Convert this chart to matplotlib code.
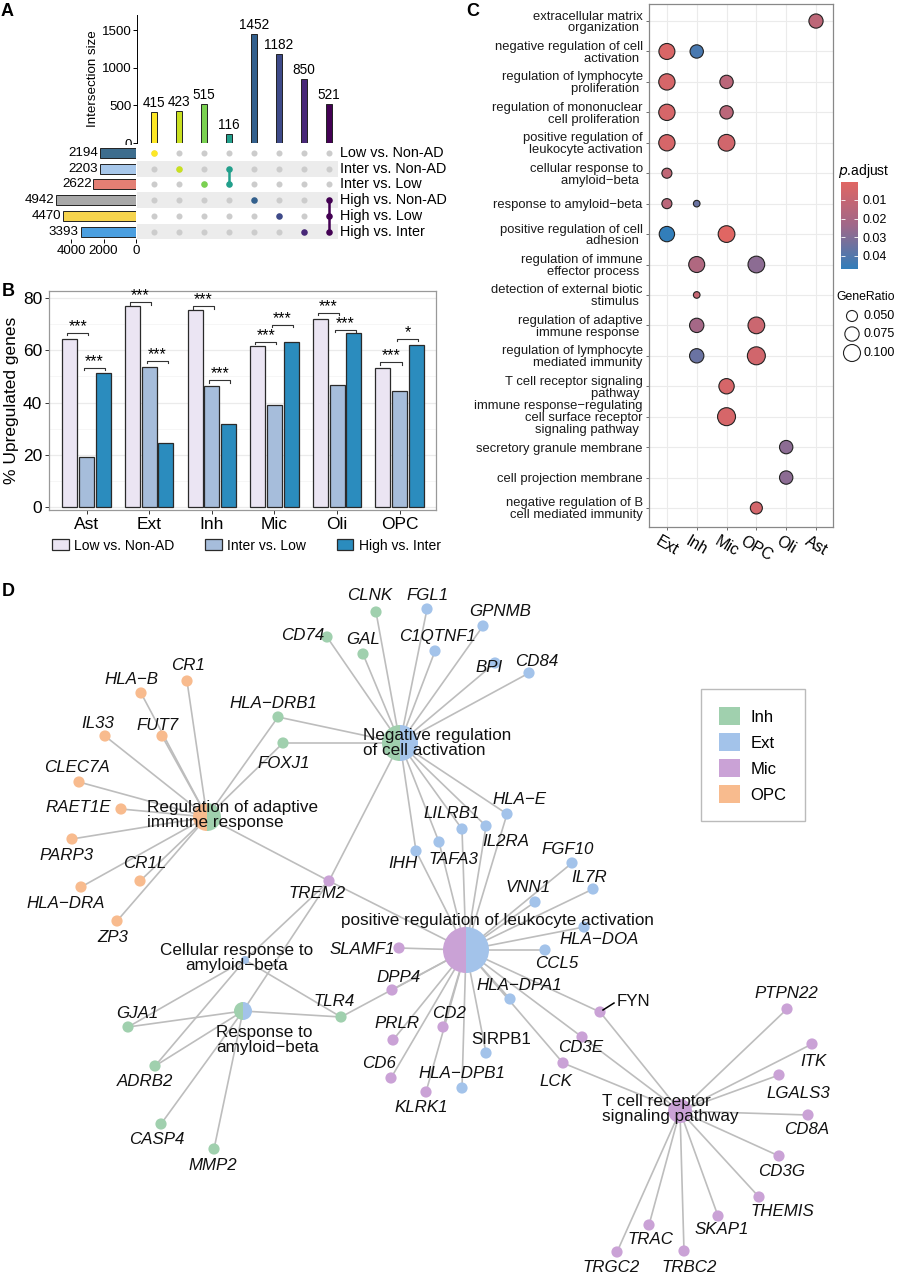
import numpy as np
import matplotlib
matplotlib.use('Agg')
import matplotlib.pyplot as plt
from matplotlib.patches import Wedge, Circle, Patch
from matplotlib.colors import LinearSegmentedColormap, Normalize

plt.rcParams['font.family'] = ['Liberation Sans', 'DejaVu Sans']

W, H = 899, 1280

# ---------------- A: upset data ----------------
set_names = ['Low vs. Non-AD', 'Inter vs. Non-AD', 'Inter vs. Low',
             'High vs. Non-AD', 'High vs. Low', 'High vs. Inter']
set_sizes = [2194, 2203, 2622, 4942, 4470, 3393]
set_colors = ['#3d6d8e', '#a7c7ea', '#e37f74', '#a8a8a8', '#f6d44e', '#4b9fe0']
inter_sizes = [415, 423, 515, 116, 1452, 1182, 850, 521]
inter_members = [[0], [1], [2], [1, 2], [3], [4], [5], [3, 4, 5]]
inter_colors = ['#fde725', '#c9e020', '#7ad151', '#22a08c',
                '#33608d', '#3e4a89', '#482878', '#440154']

# ---------------- B: % upregulated ----------------
cell_types = ['Ast', 'Ext', 'Inh', 'Mic', 'Oli', 'OPC']
comp_names = ['Low vs. Non-AD', 'Inter vs. Low', 'High vs. Inter']
comp_colors = ['#ebe5f3', '#a6bddb', '#2b8cbe']
pct_low_nonad = [64.4, 77.1, 75.4, 61.6, 72.0, 53.2]
pct_inter_low = [19.1, 53.8, 46.2, 39.2, 46.6, 44.5]
pct_high_inter = [51.2, 24.4, 31.9, 63.2, 66.6, 62.1]
sig1_y = [66.6, 78.3, 76.8, 63.3, 74.3, 55.4]
sig1_lab = ['***', '***', '***', '***', '***', '***']
sig2_y = [53.2, 55.9, 48.5, 69.7, 67.9, 64.4]
sig2_lab = ['***', '***', '***', '***', '***', '*']

# ---------------- C: GO dotplot ----------------
go_terms = ['extracellular matrix\norganization ',
            'negative regulation of cell\nactivation ',
            'regulation of lymphocyte\nproliferation ',
            'regulation of mononuclear\ncell proliferation ',
            'positive regulation of\nleukocyte activation',
            'cellular response to\namyloid\u2212beta ',
            'response to amyloid\u2212beta',
            'positive regulation of cell\nadhesion ',
            'regulation of immune\neffector process ',
            'detection of external biotic\nstimulus ',
            'regulation of adaptive\nimmune response ',
            'regulation of lymphocyte\nmediated immunity',
            'T cell receptor signaling\npathway ',
            'immune response\u2212regulating\ncell surface receptor\nsignaling pathway ',
            'secretory granule membrane',
            'cell projection membrane',
            'negative regulation of B\ncell mediated immunity']
go_clusters = ['Ext', 'Inh', 'Mic', 'OPC', 'Oli', 'Ast']
dot_term = [1, 2, 2, 3, 3, 4, 4, 5, 5, 6, 7, 7, 8, 8, 9, 9, 10, 11, 11, 12, 12, 13, 14, 15, 16, 17]
dot_cluster = ['Ast', 'Ext', 'Inh', 'Ext', 'Mic', 'Ext', 'Mic', 'Ext', 'Mic', 'Ext', 'Ext', 'Inh',
               'Ext', 'Mic', 'Inh', 'OPC', 'Inh', 'Inh', 'OPC', 'Inh', 'OPC', 'Mic', 'Mic',
               'Oli', 'Oli', 'OPC']
dot_padj = [0.013, 0.003, 0.042, 0.004, 0.014, 0.004, 0.014, 0.004, 0.006, 0.012, 0.014, 0.035,
            0.047, 0.0004, 0.018, 0.028, 0.010, 0.022, 0.008, 0.035, 0.006, 0.004, 0.004,
            0.028, 0.028, 0.005]
dot_ratio = [0.074, 0.090, 0.067, 0.093, 0.067, 0.093, 0.067, 0.093, 0.097, 0.044, 0.044, 0.027,
             0.084, 0.097, 0.090, 0.097, 0.027, 0.075, 0.097, 0.075, 0.110, 0.084, 0.110,
             0.067, 0.067, 0.057]
ratio_breaks = [0.050, 0.075, 0.100]

# ---------------- D: cnet network ----------------
genes = ['CLNK', 'FGL1', 'CD74', 'GAL', 'C1QTNF1', 'GPNMB', 'BPI', 'CD84', 'HLA\u2212DRB1', 'FOXJ1',
         'HLA\u2212B', 'CR1', 'IL33', 'FUT7', 'CLEC7A', 'RAET1E', 'PARP3', 'CR1L', 'HLA\u2212DRA', 'ZP3',
         'TREM2', 'HLA\u2212E', 'LILRB1', 'IL2RA', 'TAFA3', 'IHH', 'FGF10', 'IL7R', 'VNN1', 'HLA\u2212DOA',
         'CCL5', 'SLAMF1', 'GJA1', 'TLR4', 'ADRB2', 'CASP4', 'MMP2', 'DPP4', 'PRLR', 'CD6',
         'KLRK1', 'CD2', 'HLA\u2212DPA1', 'FYN', 'SIRPB1', 'CD3E', 'LCK', 'HLA\u2212DPB1', 'PTPN22', 'ITK',
         'LGALS3', 'CD8A', 'CD3G', 'THEMIS', 'SKAP1', 'TRAC', 'TRBC2', 'TRGC2']
gene_x = [376, 427, 327, 363, 435, 483, 495, 529, 278, 283,
          141, 187, 105, 162, 79, 121, 72, 140, 81, 117,
          329, 507, 462, 486, 439, 416, 572, 593, 535, 584,
          545, 399, 128, 341, 155, 161, 214, 392, 393, 391,
          426, 443, 510, 600, 486, 582, 563, 462, 787, 812,
          779, 808, 779, 759, 718, 649, 684, 617]
gene_y = [612, 609, 637, 654, 651, 626, 663, 673, 717, 743,
          693, 681, 736, 736, 782, 809, 839, 881, 887, 921,
          881, 814, 829, 826, 842, 851, 863, 889, 902, 927,
          950, 948, 1027, 1017, 1066, 1124, 1149, 990, 1040, 1078,
          1092, 1027, 999, 1012, 1053, 1037, 1063, 1088, 1009, 1044,
          1075, 1115, 1156, 1197, 1216, 1225, 1251, 1252]
gene_cluster = ['Inh', 'Ext', 'Inh', 'Inh', 'Ext', 'Ext', 'Ext', 'Ext', 'Inh', 'Inh',
                'OPC', 'OPC', 'OPC', 'OPC', 'OPC', 'OPC', 'OPC', 'OPC', 'OPC', 'OPC',
                'Mic', 'Ext', 'Ext', 'Ext', 'Ext', 'Ext', 'Ext', 'Ext', 'Ext', 'Ext',
                'Ext', 'Mic', 'Inh', 'Inh', 'Inh', 'Inh', 'Inh', 'Mic', 'Mic', 'Mic',
                'Mic', 'Mic', 'Ext', 'Mic', 'Ext', 'Mic', 'Mic', 'Ext', 'Mic', 'Mic',
                'Mic', 'Mic', 'Mic', 'Mic', 'Mic', 'Mic', 'Mic', 'Mic']
label_x = [370, 428, 303, 363, 437, 500, 489, 537, 273, 284,
           131, 188, 98, 158, 77, 78, 67, 145, 66, 113,
           317, 519, 452, 506, 453, 403, 568, 589, 528, 599,
           557, 362, 137, 334, 145, 157, 213, 399, 397, 379,
           421, 449, 519, 633, 501, 581, 556, 462, 786, 813,
           798, 807, 782, 782, 722, 650, 689, 611]
label_y = [595, 595, 635, 640, 637, 612, 667, 661, 703, 763,
           679, 666, 723, 725, 768, 808, 855, 864, 903, 937,
           893, 799, 814, 841, 859, 864, 849, 878, 888, 940,
           963, 949, 1013, 1002, 1081, 1140, 1166, 977, 1024, 1063,
           1107, 1013, 986, 1002, 1040, 1047, 1081, 1074, 994, 1062,
           1093, 1130, 1171, 1212, 1230, 1239, 1267, 1267]
upright_genes = ['FYN', 'SIRPB1']

hub_names = ['Negative regulation\nof cell activation',
             'Regulation of adaptive\nimmune response',
             'positive regulation of leukocyte activation',
             'Cellular response to\namyloid\u2212beta',
             'Response to\namyloid\u2212beta',
             'T cell receptor\nsignaling pathway']
hub_x = [400, 207, 466, 245, 243, 680]
hub_y = [743, 817, 950, 960, 1011, 1111]
hub_clusters = [['Inh', 'Ext'], ['OPC', 'Inh'], ['Mic', 'Ext'], ['Ext'], ['Inh', 'Ext'], ['Mic']]
hub_radius = [18, 14, 23, 4, 9, 12]
hub_label_x = [363, 147, 341, 237, 216, 602]
hub_label_y = [743, 815, 920, 958, 1040, 1109]
hub_label_ha = ['left', 'left', 'left', 'center', 'left', 'left']

edges_neg = ['CLNK', 'FGL1', 'CD74', 'GAL', 'C1QTNF1', 'GPNMB', 'BPI', 'CD84', 'HLA\u2212DRB1',
             'FOXJ1', 'HLA\u2212E', 'LILRB1', 'IL2RA', 'TAFA3', 'IHH', 'TREM2']
edges_adapt = ['HLA\u2212B', 'CR1', 'IL33', 'FUT7', 'CLEC7A', 'RAET1E', 'PARP3', 'CR1L',
               'HLA\u2212DRA', 'ZP3', 'HLA\u2212DRB1', 'FOXJ1', 'TREM2']
edges_leuk = ['HLA\u2212E', 'LILRB1', 'IL2RA', 'TAFA3', 'IHH', 'FGF10', 'IL7R', 'VNN1', 'HLA\u2212DOA',
              'CCL5', 'SLAMF1', 'DPP4', 'PRLR', 'CD6', 'CD2', 'KLRK1', 'HLA\u2212DPB1', 'SIRPB1',
              'HLA\u2212DPA1', 'CD3E', 'LCK', 'FYN', 'TLR4', 'TREM2']
edges_cab = ['GJA1', 'ADRB2', 'TLR4', 'TREM2']
edges_rab = ['GJA1', 'ADRB2', 'TLR4', 'CASP4', 'MMP2', 'TREM2']
edges_tcr = ['FYN', 'CD3E', 'LCK', 'PTPN22', 'ITK', 'LGALS3', 'CD8A', 'CD3G', 'THEMIS',
             'SKAP1', 'TRAC', 'TRBC2', 'TRGC2']
hub_edges = [edges_neg, edges_adapt, edges_leuk, edges_cab, edges_rab, edges_tcr]

net_colors = {'Inh': '#a0d0ae', 'Ext': '#a3c3ea', 'Mic': '#caa2d6', 'OPC': '#f8bb8e'}


def px_axes(left, top, width, height):
    return fig.add_axes([left / W, 1 - (top + height) / H, width / W, height / H])


fig = plt.figure(figsize=(W / 100, H / 100), dpi=100)

# ======================= Panel A =======================
xl = (-0.68, 7.36)
ax_ib = px_axes(137, 15, 201, 128)
xs = np.arange(len(inter_sizes))
ax_ib.bar(xs, inter_sizes, width=0.26, color=inter_colors, edgecolor='#222222', linewidth=0.7)
for x, v in zip(xs, inter_sizes):
    ax_ib.text(x, v + 25, str(v), ha='center', va='bottom', fontsize=9.8)
ax_ib.set_xlim(*xl)
ax_ib.set_ylim(0, 1700)
ax_ib.set_yticks([0, 500, 1000, 1500])
ax_ib.tick_params(axis='y', labelsize=9.6, length=3, width=0.7, pad=1)
ax_ib.set_xticks([])
for s in ['top', 'right', 'bottom']:
    ax_ib.spines[s].set_visible(False)
ax_ib.spines['left'].set_linewidth(0.7)
ax_ib.set_ylabel('Intersection size', fontsize=9.6, labelpad=2)

ax_m = px_axes(137, 145.1, 201, 94.3)
ax_m.set_xlim(*xl)
ax_m.set_ylim(5.5, -0.5)
for r in range(len(set_names)):
    if r % 2 == 1:
        ax_m.axhspan(r - 0.5, r + 0.5, color='#ececec', lw=0, zorder=0)
    ax_m.text(7.45, r, set_names[r], ha='left', va='center', fontsize=10.4, clip_on=False)
for x in xs:
    ax_m.scatter(np.full(6, x), np.arange(6), s=19, color='#cccccc', zorder=2, lw=0)
    mem = inter_members[x]
    if len(mem) > 1:
        ax_m.plot([x, x], [min(mem), max(mem)], color=inter_colors[x], lw=1.8, zorder=3)
    ax_m.scatter(np.full(len(mem), x), mem, s=22, color=inter_colors[x], zorder=4, lw=0)
ax_m.axis('off')

ax_ss = px_axes(50, 145.1, 86, 94.3)
ax_ss.barh(np.arange(6), set_sizes, height=0.64, color=set_colors, edgecolor='#222222', linewidth=0.7)
for r, v in enumerate(set_sizes):
    ax_ss.text(v + 120, r, str(v), ha='right', va='center', fontsize=9.6)
ax_ss.set_xlim(5300, 0)
ax_ss.set_ylim(5.5, -0.5)
ax_ss.set_xticks([4000, 2000, 0])
ax_ss.set_yticks([])
ax_ss.tick_params(axis='x', labelsize=9.6, length=3, width=0.7, pad=1)
for s in ax_ss.spines.values():
    s.set_visible(False)

# ======================= Panel B =======================
ax_b = px_axes(49, 291, 387, 219)
gx = np.arange(len(cell_types))
off = 0.267
for i, vals in enumerate([pct_low_nonad, pct_inter_low, pct_high_inter]):
    ax_b.bar(gx + (i - 1) * off, vals, width=0.24, color=comp_colors[i],
             edgecolor='#2a2a2a', linewidth=0.9, label=comp_names[i], zorder=3)
for g in gx:
    for (a, b), ys, labs in [((0, 1), sig1_y, sig1_lab), ((1, 2), sig2_y, sig2_lab)]:
        x0 = g + (a - 1) * off - 0.04
        x1 = g + (b - 1) * off + 0.03
        y = ys[g]
        ax_b.plot([x0, x0, x1, x1], [y - 0.9, y, y, y - 0.9], color='#333333', lw=0.8, zorder=4)
        ax_b.text((x0 + x1) / 2, y - 0.4, labs[g], ha='center', va='bottom', fontsize=11.5, zorder=4)
ax_b.set_xlim(-0.6, 5.58)
ax_b.set_ylim(-1.1, 82.7)
ax_b.set_yticks([0, 20, 40, 60, 80])
ax_b.set_yticks([10, 30, 50, 70], minor=True)
ax_b.grid(axis='y', which='major', color='#ebebeb', lw=0.9, zorder=0)
ax_b.grid(axis='y', which='minor', color='#f5f5f5', lw=0.6, zorder=0)
ax_b.set_xticks(gx)
ax_b.set_xticklabels(cell_types)
ax_b.tick_params(axis='both', labelsize=12.5, length=3, width=0.7, color='#333333', pad=2)
ax_b.tick_params(axis='y', which='minor', length=0)
for s in ax_b.spines.values():
    s.set_color('#999999')
    s.set_linewidth(0.9)
ax_b.set_ylabel('% Upregulated genes', fontsize=12.5, labelpad=3)
ax_b.legend(loc='upper center', bbox_to_anchor=(0.51, -0.105), ncol=3, frameon=False,
            fontsize=10, handlelength=1.2, handleheight=0.8, handletextpad=0.4,
            columnspacing=2.2, borderaxespad=0)

# ======================= Panel C =======================
ax_c = px_axes(649, 4, 184, 523)
cmap_p = LinearSegmentedColormap.from_list('padj', ['#e06663', '#a0688a', '#327eba'])
norm_p = Normalize(vmin=min(dot_padj), vmax=max(dot_padj))


def ratio_to_s(r):
    d = np.sqrt(121 + (np.asarray(r) - 0.05) * 3360)
    return (d * 0.72) ** 2


dx = [go_clusters.index(c) for c in dot_cluster]
ax_c.scatter(dx, dot_term, s=ratio_to_s(dot_ratio), c=dot_padj, cmap=cmap_p, norm=norm_p,
             edgecolors='#222222', linewidths=0.8, zorder=3)
ax_c.set_xlim(-0.6, 5.57)
ax_c.set_ylim(17.625, 0.44)
ax_c.set_xticks(range(len(go_clusters)))
ax_c.set_xticklabels(go_clusters, rotation=-30, ha='center', va='top', fontsize=11.5)
ax_c.set_yticks(range(1, len(go_terms) + 1))
ax_c.set_yticklabels(go_terms, fontsize=9.4, linespacing=0.98, color='#1a1a1a')
ax_c.grid(True, color='#ebebeb', lw=0.8, zorder=0)
ax_c.tick_params(axis='both', length=2.5, width=0.6, color='#555555', pad=2)
for s in ax_c.spines.values():
    s.set_color('#888888')
    s.set_linewidth(0.9)

# colourbar
ax_cb = px_axes(841, 182, 17, 87)
grad = np.linspace(norm_p.vmin, norm_p.vmax, 256).reshape(-1, 1)
ax_cb.imshow(grad, cmap=cmap_p, norm=norm_p, aspect='auto',
             extent=[0, 1, norm_p.vmax, norm_p.vmin])
ax_cb.set_ylim(norm_p.vmax, norm_p.vmin)
ax_cb.set_xticks([])
ax_cb.set_yticks([0.01, 0.02, 0.03, 0.04])
ax_cb.set_yticklabels(['0.01', '0.02', '0.03', '0.04'])
ax_cb.yaxis.tick_right()
ax_cb.tick_params(axis='y', direction='in', color='white', length=3, width=0.6,
                  labelsize=9, pad=3, left=True, right=True)
for s in ax_cb.spines.values():
    s.set_visible(False)
fig.text(838 / W, 1 - 171 / H, r'$\it{p}$.adjust', fontsize=10, ha='left', va='center')

# size legend
fig.text(836 / W, 1 - 297 / H, 'GeneRatio', fontsize=8.8, ha='left', va='center')
ax_sl = px_axes(838, 305, 61, 58)
ax_sl.set_xlim(0, 61)
ax_sl.set_ylim(58, 0)
ly = np.array([11, 29, 48])
ax_sl.scatter(np.full(3, 14), ly, s=ratio_to_s(ratio_breaks), facecolors='white',
              edgecolors='#222222', linewidths=0.8)
for yy, b in zip(ly, ratio_breaks):
    ax_sl.text(26, yy, f'{b:.3f}', fontsize=9, va='center', ha='left')
ax_sl.axis('off')

# ======================= Panel D =======================
ax_d = px_axes(0, 570, W, H - 570)
ax_d.set_xlim(0, W)
ax_d.set_ylim(H, 570)
ax_d.axis('off')
gpos = {g: (x, y) for g, x, y in zip(genes, gene_x, gene_y)}
for h in range(len(hub_names)):
    for g in hub_edges[h]:
        ax_d.plot([hub_x[h], gpos[g][0]], [hub_y[h], gpos[g][1]], color='#bdbdbd', lw=1.2, zorder=1)
for g, x, y, c in zip(genes, gene_x, gene_y, gene_cluster):
    ax_d.add_patch(Circle((x, y), 5.6, facecolor=net_colors[c], edgecolor='none', zorder=2))
for h in range(len(hub_names)):
    cl = hub_clusters[h]
    n = len(cl)
    for k, c in enumerate(cl):
        t0 = 90 + 360 * k / n
        t1 = 90 + 360 * (k + 1) / n
        ax_d.add_patch(Wedge((hub_x[h], hub_y[h]), hub_radius[h], t0, t1,
                             facecolor=net_colors[c], edgecolor='none', zorder=2))
    ax_d.text(hub_label_x[h], hub_label_y[h], hub_names[h], ha=hub_label_ha[h], va='center',
              fontsize=12.3, linespacing=1.05, color='#111111', zorder=5,
              multialignment='center' if hub_label_ha[h] == 'center' else 'left')
for g, lx, ly_ in zip(genes, label_x, label_y):
    ax_d.text(lx, ly_, g, ha='center', va='center', fontsize=12.2,
              style='normal' if g in upright_genes else 'italic', color='#111111', zorder=5)
ax_d.plot([603, 614], [1010, 1003], color='black', lw=1.1, zorder=4)

handles = [Patch(facecolor=net_colors[k], edgecolor='none') for k in ['Inh', 'Ext', 'Mic', 'OPC']]
leg = ax_d.legend(handles, ['Inh', 'Ext', 'Mic', 'OPC'], loc='upper left',
                  bbox_to_anchor=(701 / W, 1 - (689 - 570) / (H - 570)), fontsize=12,
                  frameon=True, fancybox=False, edgecolor='#aaaaaa', borderpad=1.1,
                  borderaxespad=0, labelspacing=0.5, handlelength=1.25, handleheight=1.25,
                  handletextpad=0.6)
leg.get_frame().set_linewidth(1.0)

# panel letters
for lab, x, y in [('A', 7, 11), ('B', 8, 291), ('C', 473, 12), ('D', 8, 592)]:
    fig.text(x / W, 1 - y / H, lab, fontsize=13, fontweight='bold', ha='center', va='center')

fig.savefig('out.png', dpi=100)
